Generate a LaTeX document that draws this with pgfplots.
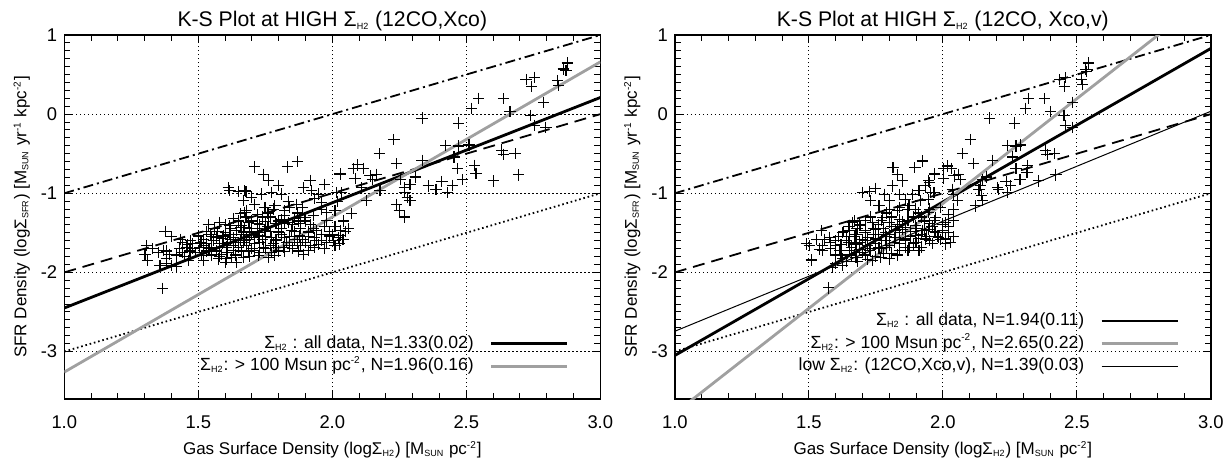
\documentclass[border=0pt]{standalone}
\usepackage{fontspec}
\setmainfont{Liberation Sans}
\usepackage{pgfplots}
\pgfplotsset{compat=1.18}
\definecolor{lgray}{RGB}{160,160,160}
\newcommand{\sbs}[1]{\textsubscript{\fontsize{4.5}{5}\selectfont #1}}
\newcommand{\sps}[1]{\textsuperscript{\fontsize{5}{6}\selectfont #1}}

\pgfplotstableread{
x y
1.307 -1.66
1.301 -1.77
1.310 -1.85
1.367 -2.20
1.612 -0.93
1.618 -0.97
1.649 -0.98
1.678 -0.98
1.670 -1.09
1.656 -1.26
1.680 -1.22
1.537 -1.40
1.580 -1.37
1.618 -1.41
1.649 -1.35
1.376 -1.48
1.400 -1.55
1.382 -1.73
1.370 -1.72
1.394 -1.77
1.357 -1.91
1.382 -1.89
1.400 -1.91
1.420 -1.93
1.432 -1.58
1.440 -1.62
1.457 -1.68
1.469 -1.73
1.440 -1.75
1.463 -1.85
1.500 -1.54
1.519 -1.58
1.531 -1.64
1.550 -1.68
1.569 -1.73
1.587 -1.77
1.606 -1.83
1.625 -1.81
1.643 -1.87
1.668 -1.81
1.506 -1.68
1.480 -1.64
1.544 -1.52
1.569 -1.56
1.593 -1.54
1.618 -1.52
1.643 -1.47
1.668 -1.49
1.680 -1.56
1.656 -1.60
1.631 -1.66
1.606 -1.68
1.580 -1.64
1.556 -1.60
1.531 -1.73
1.512 -1.79
1.575 -1.83
1.600 -1.87
1.662 -1.73
1.656 -1.43
1.675 -1.31
1.687 -1.37
1.711 -0.667
1.742 -0.76
1.761 -0.835
1.800 -0.90
1.833 -0.667
1.869 -0.60
1.917 -0.835
1.892 -0.93
1.972 -0.886
1.674 -0.97
1.699 -1.05
1.736 -1.01
1.773 -0.99
1.811 -1.01
1.836 -1.10
1.867 -1.14
1.923 -0.97
1.935 -1.07
1.948 -1.01
2.035 -0.99
1.711 -1.14
1.749 -1.18
1.786 -1.16
1.823 -1.22
1.761 -1.31
1.674 -1.24
1.699 -1.35
1.730 -1.39
1.800 -1.35
1.836 -1.37
1.873 -1.35
1.898 -1.31
1.960 -1.20
1.979 -1.24
2.010 -1.22
2.041 -1.35
2.060 -1.45
2.072 -1.26
1.674 -1.43
1.699 -1.49
1.724 -1.54
1.749 -1.47
1.773 -1.56
1.800 -1.49
1.823 -1.56
1.848 -1.47
1.879 -1.54
1.910 -1.49
1.935 -1.56
1.960 -1.60
1.991 -1.54
2.022 -1.56
2.028 -1.64
2.004 -1.60
1.674 -1.60
1.711 -1.64
1.742 -1.68
1.773 -1.75
1.786 -1.79
1.761 -1.81
1.817 -1.68
1.873 -1.73
1.892 -1.77
1.935 -1.68
1.686 -1.73
1.724 -1.79
1.70 -1.52
1.72 -1.45
1.74 -1.58
1.76 -1.42
1.78 -1.63
1.79 -1.38
1.81 -1.45
1.83 -1.62
1.85 -1.40
1.86 -1.58
1.88 -1.45
1.90 -1.62
1.92 -1.40
1.94 -1.47
1.95 -1.65
1.97 -1.42
1.99 -1.48
2.01 -1.66
2.03 -1.47
2.04 -1.58
1.60 -1.50
1.62 -1.58
1.64 -1.62
1.66 -1.52
1.68 -1.66
1.70 -1.70
1.72 -1.38
1.74 -1.30
1.76 -1.25
1.78 -1.20
1.82 -1.28
1.84 -1.18
1.87 -1.25
1.89 -1.18
1.93 -1.28
1.96 -1.12
1.98 -1.34
2.02 -1.10
1.69 -1.80
1.73 -1.75
1.75 -1.70
1.79 -1.69
1.82 -1.74
1.85 -1.70
1.88 -1.66
1.91 -1.72
1.57 -1.48
1.59 -1.63
1.61 -1.75
1.63 -1.72
1.53 -1.48
1.55 -1.78
1.49 -1.75
1.47 -1.60
1.52 -1.85
1.45 -1.80
1.51 -1.62
1.54 -1.70
1.56 -1.45
1.58 -1.80
1.59 -1.57
1.61 -1.62
1.62 -1.45
1.63 -1.56
1.64 -1.78
1.65 -1.68
1.66 -1.41
1.67 -1.62
1.69 -1.58
1.69 -1.44
1.71 -1.72
1.71 -1.56
1.73 -1.50
1.73 -1.62
1.75 -1.55
1.75 -1.36
1.77 -1.48
1.77 -1.66
1.79 -1.59
1.80 -1.73
1.81 -1.52
1.82 -1.38
1.84 -1.55
1.84 -1.66
1.86 -1.48
1.87 -1.62
1.88 -1.38
1.89 -1.58
1.91 -1.55
1.92 -1.66
1.93 -1.44
1.94 -1.60
1.96 -1.52
1.97 -1.70
1.98 -1.62
2.00 -1.52
2.01 -1.42
2.03 -1.53
2.05 -1.48
1.90 -1.35
1.86 -1.32
1.81 -1.33
1.77 -1.30
1.72 -1.27
1.68 -1.30
1.63 -1.32
1.60 -1.40
1.55 -1.55
1.52 -1.66
1.48 -1.70
1.46 -1.65
1.43 -1.70
1.42 -1.78
1.38 -1.82
1.35 -1.75
1.33 -1.70
2.877 0.646
2.862 0.571
2.872 0.554
2.723 0.437
2.753 0.466
2.743 0.353
2.841 0.424
2.845 0.361
2.546 0.201
2.639 0.193
2.520 0.075
2.663 0.034
2.789 0.151
2.741 -0.013
2.753 -0.139
2.797 -0.164
2.335 -0.05
2.472 -0.113
2.230 -0.319
2.423 -0.395
2.470 -0.403
2.510 -0.39
2.175 -0.50
2.335 -0.584
2.454 -0.542
2.633 -0.454
2.638 -0.508
2.682 -0.50
2.531 -0.646
2.536 -0.747
2.468 -0.688
2.239 -0.626
2.093 -0.642
2.078 -0.688
2.116 -0.684
2.029 -0.756
2.085 -0.815
2.141 -0.781
2.166 -0.76
2.149 -0.823
2.309 -0.794
2.253 -0.831
2.486 -0.831
2.695 -0.768
2.601 -0.844
2.409 -0.852
2.358 -0.907
2.387 -0.949
2.448 -0.898
2.429 -0.991
2.290 -0.89
2.268 -0.928
2.271 -0.99
2.280 -1.05
2.290 -1.09
2.016 -0.99
2.110 -0.93
2.178 -0.96
2.128 -1.09
2.240 -1.14
2.25 -1.22
2.27 -1.30
}\lefttab

\pgfplotstableread{
x y
1.923 -0.592
1.896 -0.676
1.814 -0.676
1.830 -0.768
1.849 -0.844
1.948 -0.844
1.936 -0.907
1.812 -0.907
1.750 -0.936
1.725 -0.978
1.700 -0.99
1.731 -1.096
1.781 -1.012
1.800 -1.087
1.837 -1.012
1.861 -1.075
1.886 -1.012
1.911 -0.97
1.917 -1.096
1.948 -1.075
2.040 -1.012
1.762 -1.159
1.800 -1.20
1.837 -1.18
1.874 -1.159
1.899 -1.20
1.948 -1.243
1.973 -1.306
2.022 -1.264
2.040 -1.348
2.010 -1.369
1.663 -1.369
1.694 -1.41
1.738 -1.369
1.775 -1.306
1.800 -1.369
1.837 -1.327
1.861 -1.432
1.546 -1.474
1.577 -1.557
1.600 -1.60
1.626 -1.495
1.651 -1.474
1.676 -1.516
1.713 -1.474
1.750 -1.453
1.787 -1.495
1.824 -1.474
1.899 -1.41
1.923 -1.474
1.948 -1.453
1.973 -1.495
1.998 -1.474
2.010 -1.578
1.985 -1.557
1.936 -1.578
1.899 -1.536
1.861 -1.578
1.824 -1.557
1.787 -1.60
1.750 -1.578
1.713 -1.60
1.676 -1.641
1.639 -1.60
1.600 -1.663
1.614 -1.725
1.651 -1.725
1.688 -1.705
1.725 -1.725
1.762 -1.684
1.800 -1.663
1.837 -1.725
1.874 -1.684
1.911 -1.725
1.769 -1.81
1.800 -1.83
1.738 -1.85
1.676 -1.81
1.626 -1.83
1.600 -1.89
1.626 -1.914
1.589 -1.935
1.502 -1.663
1.540 -1.705
1.552 -1.725
1.509 -1.843
1.490 -1.64
1.574 -2.196
1.64 -1.55
1.66 -1.68
1.68 -1.45
1.70 -1.58
1.72 -1.66
1.74 -1.52
1.76 -1.40
1.77 -1.70
1.79 -1.55
1.81 -1.42
1.82 -1.62
1.84 -1.50
1.85 -1.36
1.86 -1.68
1.88 -1.55
1.89 -1.30
1.90 -1.62
1.92 -1.52
1.93 -1.35
1.95 -1.60
1.96 -1.42
1.98 -1.55
2.00 -1.40
2.02 -1.50
2.03 -1.62
1.71 -1.78
1.75 -1.80
1.78 -1.76
1.83 -1.78
1.62 -1.78
1.58 -1.70
1.56 -1.58
1.67 -1.35
1.73 -1.30
1.79 -1.25
1.83 -1.22
1.87 -1.20
1.91 -1.25
1.95 -1.20
1.99 -1.18
1.62 -1.65
1.63 -1.48
1.65 -1.62
1.66 -1.78
1.67 -1.55
1.69 -1.62
1.69 -1.40
1.70 -1.75
1.71 -1.50
1.72 -1.56
1.73 -1.70
1.74 -1.44
1.75 -1.64
1.76 -1.52
1.77 -1.60
1.78 -1.44
1.79 -1.68
1.80 -1.52
1.81 -1.76
1.82 -1.56
1.83 -1.40
1.84 -1.64
1.85 -1.46
1.86 -1.60
1.87 -1.72
1.88 -1.48
1.89 -1.64
1.90 -1.44
1.91 -1.57
1.92 -1.68
1.93 -1.47
1.94 -1.55
1.95 -1.38
1.96 -1.63
1.97 -1.48
1.99 -1.58
2.00 -1.50
2.01 -1.64
2.02 -1.42
2.04 -1.55
1.97 -1.34
1.92 -1.30
1.87 -1.34
1.81 -1.30
1.77 -1.34
1.71 -1.34
1.65 -1.42
1.61 -1.55
1.58 -1.62
1.55 -1.66
1.53 -1.58
1.60 -1.78
1.64 -1.86
1.68 -1.86
1.72 -1.84
2.543 0.646
2.534 0.562
2.537 0.541
2.436 0.437
2.459 0.458
2.453 0.353
2.516 0.437
2.521 0.374
2.320 0.197
2.379 0.197
2.308 0.076
2.402 0.034
2.484 0.151
2.452 -0.013
2.457 -0.139
2.485 -0.164
2.174 -0.05
2.268 -0.113
2.102 -0.319
2.241 -0.395
2.273 -0.403
2.291 -0.39
2.073 -0.50
2.184 -0.584
2.261 -0.542
2.382 -0.454
2.389 -0.508
2.417 -0.50
2.315 -0.646
2.314 -0.74
2.273 -0.688
2.115 -0.626
2.017 -0.655
2.004 -0.688
2.033 -0.684
1.970 -0.756
2.004 -0.815
2.042 -0.781
2.060 -0.76
2.066 -0.823
2.162 -0.794
2.147 -0.831
2.288 -0.831
2.422 -0.768
2.357 -0.844
2.236 -0.852
2.204 -0.928
2.252 -0.898
2.242 -0.99
2.209 -0.949
2.141 -0.898
2.135 -0.949
2.144 -1.033
2.149 -1.096
1.967 -0.99
2.035 -0.949
2.054 -1.096
2.122 -1.16
1.949 -0.865
1.955 -0.99
2.040 -1.20
}\righttab

\pgfplotsset{
  ksaxis/.style={
    scale only axis, width=268pt, height=182pt,
    xmin=1, xmax=3, ymin=-3.6, ymax=1.0,
    xtick={1,1.5,2,2.5,3},
    xticklabels={1.0,1.5,2.0,2.5,3.0},
    ytick={-3,-2,-1,0,1},
    yticklabels={-3,-2,-1,0,1},
    minor x tick num=4, minor y tick num=9,
    tick align=inside, xtick pos=both, ytick pos=both,
    major tick length=4pt, minor tick length=3pt,
    tick style={black, line width=0.5pt},
    axis line style={black, line width=0.7pt},
    grid=major,
    major grid style={black, line width=0.6pt, dash pattern=on 0.6pt off 1.4pt},
    /pgf/number format/assume math mode=true,
    tick label style={font=\fontsize{9.2}{10}\selectfont},
    xticklabel style={yshift=-5pt},
    label style={font=\fontsize{8.5}{10}\selectfont},
    xlabel style={at={([yshift=-27.6pt]axis description cs:0.5,0)}, anchor=base},
    ylabel style={at={([xshift=-19pt]axis description cs:0,0.5)}, anchor=base, rotate=0},
    every axis title/.style={at={([yshift=4.4pt]axis description cs:0.5,1)}, anchor=base, font=\fontsize{10.6}{12}\selectfont},
    xlabel={Gas Surface Density (logΣ\sbs{H2}) [M\sbs{SUN} pc\sps{-2}]},
    ylabel={SFR Density (logΣ\sbs{SFR}) [M\sbs{SUN} yr\sps{-1} kpc\sps{-2}]},
    legend style={draw=none, fill=none, at={(0.9416,0.058)}, anchor=south east,
      font=\fontsize{8.8}{10}\selectfont, inner sep=0pt, row sep=0pt,
      nodes={text height=7pt, text depth=2.3pt, inner sep=1pt}},
    legend cell align=right,
    legend plot pos=right,
    legend image code/.code={\path (0pt,0pt); \draw[#1] (7pt,0pt) -- (45pt,0pt);},
  },
  pts/.style={only marks, mark=+, mark size=2.8pt, black, mark options={line width=0.55pt}, forget plot},
  dashdot/.style={black, line width=0.9pt, dash pattern=on 5pt off 2pt on 1pt off 2pt, forget plot},
  dashd/.style={black, line width=0.9pt, dash pattern=on 6pt off 3.5pt, forget plot},
  dottd/.style={black, line width=0.9pt, dash pattern=on 0.8pt off 1.4pt, forget plot},
}

\begin{document}
\begin{tikzpicture}
\begin{axis}[ksaxis, at={(0pt,0pt)}, anchor=south west,
  title={K-S Plot at HIGH Σ\sbs{H2} (12CO,Xco)}]
\addplot[pts] table[x=x,y=y] {\lefttab};
\addplot[dashdot] coordinates {(1,-1) (3,1)};
\addplot[dashd] coordinates {(1,-2) (3,0)};
\addplot[dottd] coordinates {(1,-3) (3,-1)};
\addplot[black, line width=1.4pt] coordinates {(1,-2.45) (3,0.21)};
\addlegendentry{Σ\sbs{H2} : all data, N=1.33(0.02)}
\addplot[lgray, line width=1.4pt] coordinates {(1,-3.26) (3,0.66)};
\addlegendentry{Σ\sbs{H2}: > 100 Msun pc\sps{-2}, N=1.96(0.16)}
\end{axis}
\begin{axis}[ksaxis, at={(305.25pt,0pt)}, anchor=south west,
  title={K-S Plot at HIGH Σ\sbs{H2} (12CO, Xco,v)}]
\addplot[pts] table[x=x,y=y] {\righttab};
\addplot[dashdot] coordinates {(1,-1) (3,1)};
\addplot[dashd] coordinates {(1,-2) (3,0)};
\addplot[dottd] coordinates {(1,-3) (3,-1)};
\addplot[black, line width=1.4pt] coordinates {(1,-3.05) (3,0.83)};
\addlegendentry{Σ\sbs{H2} : all data, N=1.94(0.11)}
\addplot[lgray, line width=1.4pt] coordinates {(1,-3.78) (3,1.52)};
\addlegendentry{Σ\sbs{H2}: > 100 Msun pc\sps{-2}, N=2.65(0.22)}
\addplot[black, line width=0.5pt] coordinates {(1,-2.744) (3,0.036)};
\addlegendentry{low Σ\sbs{H2}: (12CO,Xco,v), N=1.39(0.03)}
\end{axis}
\pgfresetboundingbox
\useasboundingbox (-32.15pt,-33.6pt) rectangle (582.85pt,199.5pt);
\end{tikzpicture}
\end{document}
